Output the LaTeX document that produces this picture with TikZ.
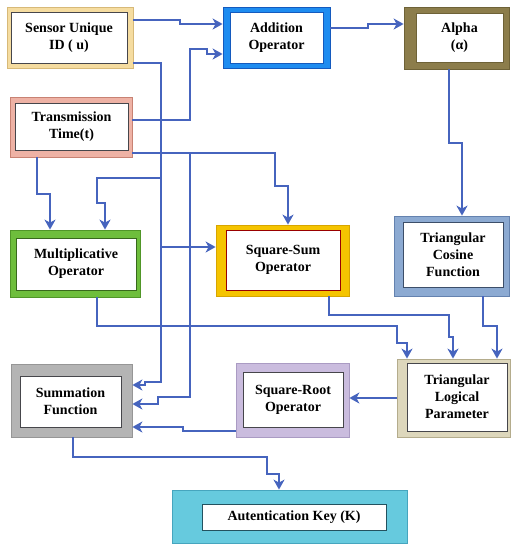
\documentclass[tikz,border=0pt]{standalone}
\usepackage{fontspec}
\setmainfont{Liberation Serif}
\usetikzlibrary{arrows.meta}
\definecolor{cline}{RGB}{70,100,190}
\definecolor{cSensor}{RGB}{245,220,160}
\definecolor{cSensorD}{RGB}{215,185,120}
\definecolor{cTrans}{RGB}{238,178,165}
\definecolor{cTransD}{RGB}{200,130,115}
\definecolor{cAdd}{RGB}{30,140,240}
\definecolor{cAddD}{RGB}{20,90,190}
\definecolor{cAlpha}{RGB}{140,125,75}
\definecolor{cAlphaD}{RGB}{110,98,55}
\definecolor{cMult}{RGB}{110,190,60}
\definecolor{cMultD}{RGB}{80,150,40}
\definecolor{cSq}{RGB}{245,196,0}
\definecolor{cSqD}{RGB}{215,165,0}
\definecolor{cCos}{RGB}{140,170,210}
\definecolor{cCosD}{RGB}{100,130,175}
\definecolor{cTlp}{RGB}{221,215,188}
\definecolor{cTlpD}{RGB}{180,172,140}
\definecolor{cRoot}{RGB}{202,188,222}
\definecolor{cRootD}{RGB}{170,155,195}
\definecolor{cSum}{RGB}{180,180,180}
\definecolor{cSumD}{RGB}{150,150,150}
\definecolor{cKey}{RGB}{102,202,222}
\definecolor{cKeyD}{RGB}{70,165,190}
\definecolor{cInner}{RGB}{70,70,75}
\tikzset{
  outerbox/.style={rectangle, inner sep=0pt, line width=0.8pt},
  innerbox/.style={rectangle, inner sep=0pt, fill=white, draw=cInner, line width=0.9pt,
     align=center, font=\fontsize{14}{17}\selectfont\bfseries},
  conn/.style={draw=cline, line width=2.2pt, -{Stealth[length=10pt,width=11pt,inset=3pt]}}
}
\begin{document}
\begin{tikzpicture}[x=1pt,y=-1pt]
\useasboundingbox (0,0) rectangle (515,550);
\fill[white] (0,0) rectangle (515,550);

% blocks: coloured frame + white inner box
\node[outerbox, fill=cSensor, draw=cSensorD, minimum width=126, minimum height=61] (sensor) at (70,37.5) {};
\node[innerbox, minimum width=116, minimum height=51] (sensorT) at (69,37.5) {Sensor Unique\\ID ( u)};

\node[outerbox, fill=cTrans, draw=cTransD, minimum width=122, minimum height=60] (trans) at (71,127) {};
\node[innerbox, minimum width=113, minimum height=47] (transT) at (71.5,126.5) {Transmission\\Time(t)};

\node[outerbox, fill=cAdd, draw=cAddD, minimum width=107, minimum height=61] (add) at (276.5,37.5) {};
\node[innerbox, draw=cAddD, minimum width=93, minimum height=51] (addT) at (276.5,37.5) {Addition\\Operator};

\node[outerbox, fill=cAlpha, draw=cAlphaD, minimum width=105, minimum height=62] (alpha) at (456.5,38) {};
\node[innerbox, draw=cAlphaD, minimum width=87, minimum height=49] (alphaT) at (459.5,37.5) {Alpha\\(α)};

\node[outerbox, fill=cMult, draw=cMultD, minimum width=130, minimum height=67] (mult) at (75,263.5) {};
\node[innerbox, draw=cMultD!70!black, minimum width=120, minimum height=52] (multT) at (76,264) {Multiplicative\\Operator};

\node[outerbox, fill=cSq, draw=cSqD, minimum width=133, minimum height=71] (sqsum) at (282.5,260.5) {};
\node[innerbox, draw=red!60!black, minimum width=114, minimum height=60] (sqsumT) at (283,260) {Square-Sum\\Operator};

\node[outerbox, fill=cCos, draw=cCosD, minimum width=115, minimum height=80] (cos) at (451.5,256) {};
\node[innerbox, draw=cCosD!60!black, minimum width=100, minimum height=65] (cosT) at (453,254.5) {Triangular\\Cosine\\Function};

\node[outerbox, fill=cTlp, draw=cTlpD, minimum width=113, minimum height=78] (tlp) at (453.5,398) {};
\node[innerbox, minimum width=100, minimum height=68] (tlpT) at (457,397) {Triangular\\Logical\\Parameter};

\node[outerbox, fill=cRoot, draw=cRootD, minimum width=113, minimum height=74] (root) at (292.5,400) {};
\node[innerbox, minimum width=100, minimum height=55] (rootT) at (293,399.5) {Square-Root\\Operator};

\node[outerbox, fill=cSum, draw=cSumD, minimum width=121, minimum height=73] (sum) at (71.5,400.5) {};
\node[innerbox, minimum width=101, minimum height=51] (sumT) at (70.5,401.5) {Summation\\Function};

\node[outerbox, fill=cKey, draw=cKeyD, minimum width=235, minimum height=53] (key) at (289.5,516.5) {};
\node[innerbox, draw=cKeyD!50!black, minimum width=184, minimum height=26] (keyT) at (294,517) {Autentication Key (K)};

% junction coordinates
\coordinate (jA) at (161,178);
\coordinate (jB) at (161,247);
\coordinate (jC) at (190,153);

% connectors
\draw[conn] (sensor.east |- 0,20) -- (180,20) -- (180,24) -- (add.west |- 0,24);
\draw[conn] (trans.east |- 0,120) -- (190,120) -- (190,49) -- (207,49) -- (207,54) -- (add.west |- 0,54);
\draw[conn] (add.east |- 0,28) -- (368,28) -- (368,24) -- (alpha.west |- 0,24);
\draw[conn] (alpha.south -| 449,0) -- (449,143) -- (462,143) -- (cos.north -| 462,0);

\draw[conn] (sensor.east |- 0,63) -- (161,63) -- (161,382) -- (145,382) -- (145,385) -- (sum.east |- 0,385);
\draw[conn] (jA) -- (97,178) -- (97,203) -- (105,203) -- (mult.north -| 105,0);
\draw[conn] (jB) -- (sqsum.west |- 0,247);

\draw[conn] (trans.south -| 37,0) -- (37,194) -- (50,194) -- (mult.north -| 50,0);
\draw[conn] (trans.east |- 0,153) -- (275,153) -- (275,186) -- (288,186) -- (sqsum.north -| 288,0);
\draw[conn] (jC) -- (190,397) -- (158,397) -- (158,404) -- (sum.east |- 0,404);

\draw[conn] (mult.south -| 97,0) -- (97,326) -- (397,326) -- (397,343) -- (407,343) -- (tlp.north -| 407,0);
\draw[conn] (sqsum.south -| 329,0) -- (329,315) -- (449,315) -- (449,337) -- (453,337) -- (tlp.north -| 453,0);
\draw[conn] (cos.south -| 483,0) -- (483,326) -- (497,326) -- (tlp.north -| 497,0);

\draw[conn] (tlp.west |- 0,398) -- (root.east |- 0,398);
\draw[conn] (root.west |- 0,431) -- (183,431) -- (183,427) -- (sum.east |- 0,427);
\draw[conn] (sum.south -| 73,0) -- (73,457) -- (267,457) -- (267,474) -- (279,474) -- (key.north -| 279,0);
\end{tikzpicture}
\end{document}
